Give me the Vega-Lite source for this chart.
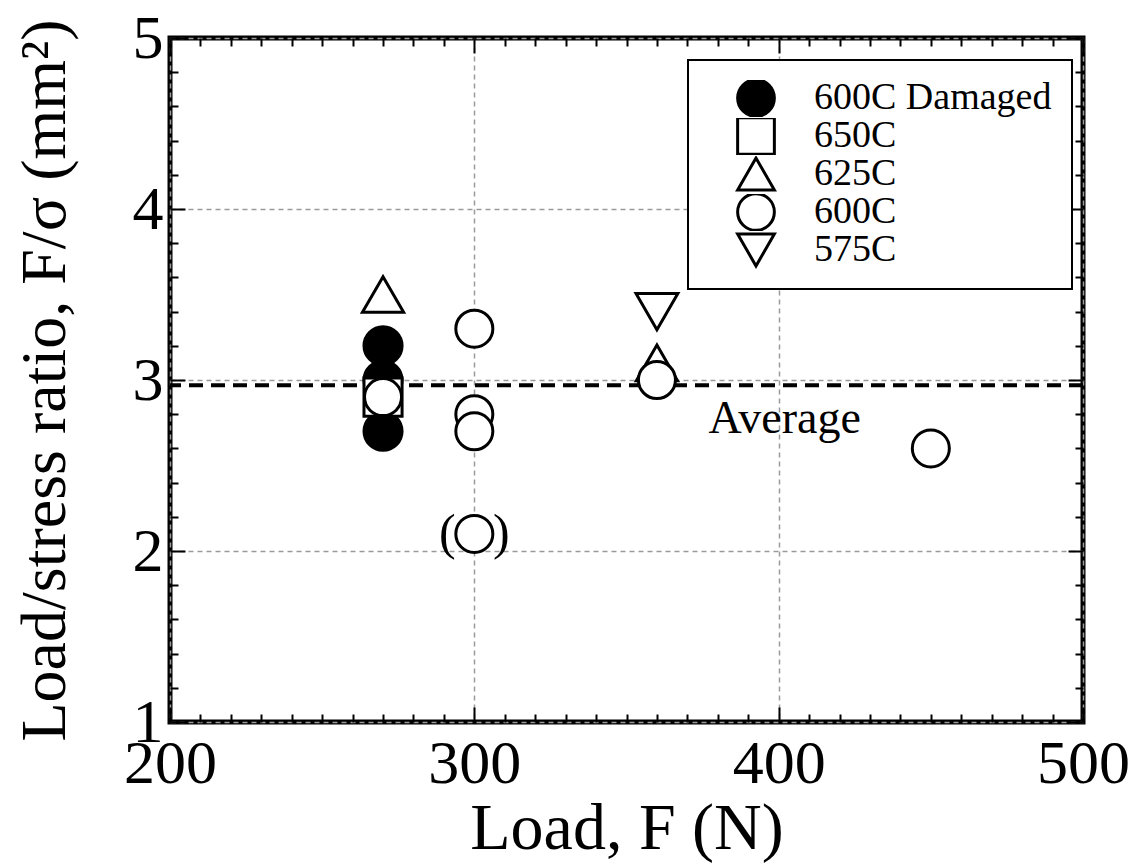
{
  "$schema": "https://vega.github.io/schema/vega-lite/v6.json",
  "width": 913,
  "height": 684,
  "autosize": {"type": "none"},
  "padding": {"left": 170, "top": 38, "right": 59, "bottom": 144},
  "background": "white",
  "config": {
    "view": {"stroke": "black", "strokeWidth": 5},
    "font": "Liberation Serif",
    "axis": {
      "domain": false,
      "tickColor": "black",
      "tickWidth": 2,
      "labelColor": "black",
      "titleColor": "black",
      "labelFont": "Liberation Serif",
      "titleFont": "Liberation Serif",
      "titleFontWeight": "normal",
      "labelFlush": false,
      "labelOverlap": false,
      "gridColor": "#9a9a9a",
      "gridDash": [5, 4],
      "gridWidth": 1.5
    },
    "legend": {
      "strokeColor": "black",
      "strokeWidth": 2,
      "fillColor": "white",
      "padding": 20,
      "labelFont": "Liberation Serif",
      "labelFontSize": 38,
      "labelColor": "black",
      "labelOffset": 38,
      "symbolOffset": 28,
      "rowPadding": 0,
      "symbolSize": 1350,
      "clipHeight": 36,
      "symbolStrokeWidth": 3,
      "symbolStrokeColor": "black",
      "labelLimit": 400
    }
  },
  "datasets": {
    "points": [
      {"F": 270, "R": 3.2, "S": "600C Damaged"},
      {"F": 270, "R": 3.0, "S": "600C Damaged"},
      {"F": 270, "R": 2.7, "S": "600C Damaged"},
      {"F": 270, "R": 2.9, "S": "650C"},
      {"F": 270, "R": 3.5, "S": "625C"},
      {"F": 360, "R": 3.1, "S": "625C"},
      {"F": 270, "R": 2.9, "S": "600C"},
      {"F": 300, "R": 3.3, "S": "600C"},
      {"F": 300, "R": 2.8, "S": "600C"},
      {"F": 300, "R": 2.7, "S": "600C"},
      {"F": 300, "R": 2.1, "S": "600C"},
      {"F": 360, "R": 3.0, "S": "600C"},
      {"F": 450, "R": 2.6, "S": "600C"},
      {"F": 360, "R": 3.4, "S": "575C"}
    ],
    "avgline": [{"avg": 2.97}],
    "avglabel": [{"F": 402, "R": 2.77, "label": "Average"}],
    "parens": [{"F": 300, "R": 2.1, "label": "(\u00a0\u00a0\u00a0)"}]
  },
  "layer": [
    {
      "data": {"name": "avgline"},
      "mark": {"type": "rule", "stroke": "black", "strokeWidth": 4, "strokeDash": [14, 8]},
      "encoding": {
        "y": {"field": "avg", "type": "quantitative", "axis": null, "scale": {"domain": [1, 5], "nice": false, "zero": false}}
      }
    },
    {
      "data": {"name": "points"},
      "transform": [{"filter": "datum.S === '600C Damaged' || datum.S === '650C'"}],
      "mark": {"type": "point", "filled": true, "strokeWidth": 3, "size": 1450, "opacity": 1},
      "encoding": {
        "x": {
          "field": "F", "type": "quantitative",
          "scale": {"domain": [200, 500], "nice": false, "zero": false},
          "axis": {"orient": "bottom", "values": [200, 300, 400, 500], "grid": true, "tickSize": -15, "labelPadding": 26, "labelFont": "Liberation Serif", "labelFontSize": 62, "title": "Load, F (N)", "titleFont": "Liberation Serif", "titleFontSize": 66, "titlePadding": 2}
        },
        "y": {
          "field": "R", "type": "quantitative",
          "scale": {"domain": [1, 5], "nice": false, "zero": false},
          "axis": {"orient": "left", "values": [1, 2, 3, 4, 5], "grid": true, "tickSize": -15, "labelPadding": 22, "labelFont": "Liberation Serif", "labelFontSize": 62, "title": "Load/stress ratio, F/σ (mm²)", "titleFont": "Liberation Serif", "titleFontSize": 64, "titlePadding": 55}
        },
        "shape": {
          "field": "S", "type": "nominal",
          "scale": {"domain": ["600C Damaged", "650C", "625C", "600C", "575C"], "range": ["circle", "square", "triangle-up", "circle", "triangle-down"]},
          "legend": {"title": null, "orient": "none", "legendX": 518, "legendY": 22}
        },
        "fill": {
          "field": "S", "type": "nominal",
          "scale": {"domain": ["600C Damaged", "650C", "625C", "600C", "575C"], "range": ["black", "white", "white", "white", "white"]},
          "legend": {"title": null, "orient": "none", "legendX": 518, "legendY": 22}
        },
        "stroke": {
          "field": "S", "type": "nominal",
          "scale": {"domain": ["600C Damaged", "650C", "625C", "600C", "575C"], "range": ["black", "black", "black", "black", "black"]},
          "legend": {"title": null, "orient": "none", "legendX": 518, "legendY": 22}
        }
      }
    },
    {
      "data": {"name": "points"},
      "transform": [{"filter": "datum.S === '625C'"}],
      "mark": {"type": "point", "filled": true, "strokeWidth": 3, "size": 1700, "opacity": 1},
      "encoding": {
        "x": {
          "field": "F", "type": "quantitative",
          "axis": {"orient": "bottom", "values": [210,220,230,240,250,260,270,280,290,310,320,330,340,350,360,370,380,390,410,420,430,440,450,460,470,480,490], "grid": false, "tickSize": -8, "labels": false, "title": null}
        },
        "y": {
          "field": "R", "type": "quantitative",
          "axis": {"orient": "left", "values": [1.2,1.4,1.6,1.8,2.2,2.4,2.6,2.8,3.2,3.4,3.6,3.8,4.2,4.4,4.6,4.8], "grid": false, "tickSize": -8, "labels": false, "title": null}
        },
        "shape": {"field": "S", "type": "nominal", "legend": {"title": null, "orient": "none", "legendX": 518, "legendY": 22}},
        "fill": {"field": "S", "type": "nominal", "legend": {"title": null, "orient": "none", "legendX": 518, "legendY": 22}},
        "stroke": {"field": "S", "type": "nominal", "legend": {"title": null, "orient": "none", "legendX": 518, "legendY": 22}}
      }
    },
    {
      "data": {"name": "points"},
      "transform": [{"filter": "datum.S === '600C'"}],
      "mark": {"type": "point", "filled": true, "strokeWidth": 3, "size": 1370, "opacity": 1},
      "encoding": {
        "x": {"field": "F", "type": "quantitative", "axis": null},
        "y": {"field": "R", "type": "quantitative", "axis": null},
        "shape": {"field": "S", "type": "nominal", "legend": {"title": null, "orient": "none", "legendX": 518, "legendY": 22}},
        "fill": {"field": "S", "type": "nominal", "legend": {"title": null, "orient": "none", "legendX": 518, "legendY": 22}},
        "stroke": {"field": "S", "type": "nominal", "legend": {"title": null, "orient": "none", "legendX": 518, "legendY": 22}}
      }
    },
    {
      "data": {"name": "points"},
      "transform": [{"filter": "datum.S === '575C'"}],
      "mark": {"type": "point", "filled": true, "strokeWidth": 3, "size": 1750, "opacity": 1},
      "encoding": {
        "x": {"field": "F", "type": "quantitative", "axis": null},
        "y": {"field": "R", "type": "quantitative", "axis": null},
        "shape": {"field": "S", "type": "nominal", "legend": {"title": null, "orient": "none", "legendX": 518, "legendY": 22}},
        "fill": {"field": "S", "type": "nominal", "legend": {"title": null, "orient": "none", "legendX": 518, "legendY": 22}},
        "stroke": {"field": "S", "type": "nominal", "legend": {"title": null, "orient": "none", "legendX": 518, "legendY": 22}}
      }
    },
    {
      "data": {"name": "avglabel"},
      "mark": {"type": "text", "fontSize": 46, "font": "Liberation Serif", "align": "center", "baseline": "middle", "color": "black"},
      "encoding": {
        "x": {"field": "F", "type": "quantitative", "axis": {"orient": "top", "values": [200, 300, 400, 500], "grid": false, "tickSize": -15, "labels": false, "title": null}},
        "y": {"field": "R", "type": "quantitative", "axis": {"orient": "right", "values": [1, 2, 3, 4, 5], "grid": false, "tickSize": -15, "labels": false, "title": null}},
        "text": {"field": "label"}
      }
    },
    {
      "data": {"name": "parens"},
      "mark": {"type": "text", "fontSize": 50, "font": "Liberation Serif", "align": "center", "baseline": "middle", "color": "black"},
      "encoding": {
        "x": {"field": "F", "type": "quantitative", "axis": {"orient": "top", "values": [210,220,230,240,250,260,270,280,290,310,320,330,340,350,360,370,380,390,410,420,430,440,450,460,470,480,490], "grid": false, "tickSize": -8, "labels": false, "title": null}},
        "y": {"field": "R", "type": "quantitative", "axis": {"orient": "right", "values": [1.2,1.4,1.6,1.8,2.2,2.4,2.6,2.8,3.2,3.4,3.6,3.8,4.2,4.4,4.6,4.8], "grid": false, "tickSize": -8, "labels": false, "title": null}},
        "text": {"field": "label"}
      }
    }
  ],
  "resolve": {"axis": {"x": "independent", "y": "independent"}}
}
